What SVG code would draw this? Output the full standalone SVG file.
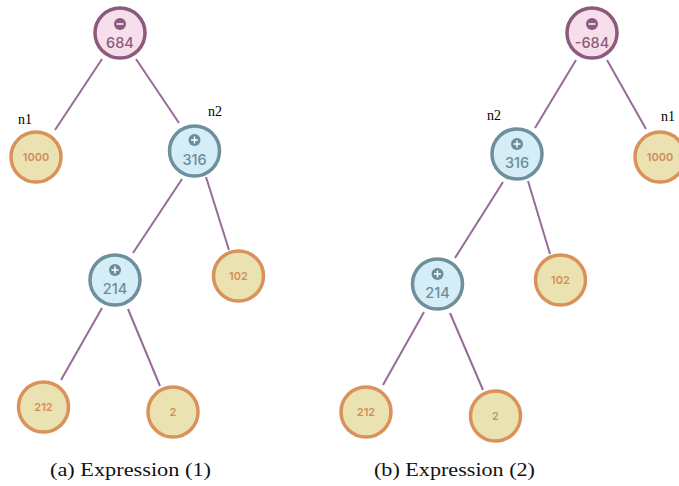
<svg xmlns="http://www.w3.org/2000/svg" width="679" height="486" viewBox="0 0 679 486">
<style>
.root circle.n{fill:#f6dfeb;stroke:#8c5a7c;stroke-width:3.5}
.root text{fill:#8c5a7c}
.root .ic{fill:#8c5a7c}
.op circle.n{fill:#d5edf6;stroke:#6d909c;stroke-width:3.5}
.op text{fill:#6d8c99}
.op .ic{fill:#6d8c99}
.leaf circle.n{fill:#ebe2b1;stroke:#d9925a;stroke-width:3.5}
.leaf text{fill:#d68c57;font-size:11px;font-weight:600}
text{font-family:Inter,"Open Sans","Noto Sans","Liberation Sans",sans-serif;text-anchor:middle}
.v{font-size:14.5px;font-weight:500}
.sg{stroke:#fff;stroke-width:1.5;fill:none}
.lbl{font-family:"Liberation Serif","DejaVu Serif",serif;font-size:14px;fill:#000;text-anchor:middle}
.cap{font-family:"Liberation Serif","DejaVu Serif",serif;font-size:18.5px;fill:#111;text-anchor:start}
#edges line{stroke:#956b98;stroke-width:2}
</style>
<g id="edges">
<line x1="102" y1="59" x2="55" y2="130"/>
<line x1="136" y1="59" x2="179" y2="123"/>
<line x1="182" y1="179" x2="133" y2="253"/>
<line x1="206" y1="177" x2="229" y2="250"/>
<line x1="102" y1="308" x2="61" y2="380"/>
<line x1="128" y1="309" x2="160" y2="386"/>
<line x1="576" y1="60" x2="535" y2="128"/>
<line x1="607" y1="60" x2="646" y2="129"/>
<line x1="503" y1="182" x2="455" y2="258"/>
<line x1="528" y1="181" x2="550" y2="254"/>
<line x1="424" y1="312" x2="383" y2="385"/>
<line x1="450" y1="313" x2="483" y2="390"/>
</g>
<g id="a-root" class="root"><circle class="n" cx="120" cy="33" r="25"/><circle class="ic" cx="120" cy="24" r="6"/><line class="sg" x1="116.5" y1="24" x2="123.5" y2="24"/><text class="v" x="120" y="48">684</text></g>
<g id="a-n1" class="leaf"><circle class="n" cx="36" cy="157" r="25"/><text x="36" y="161">1000</text></g>
<g id="a-316" class="op"><circle class="n" cx="194.5" cy="151" r="25"/><circle class="ic" cx="194.5" cy="140" r="6"/><path class="sg" d="M191 140H198M194.5 136.5V143.5"/><text class="v" x="194.5" y="165">316</text></g>
<g id="a-214" class="op"><circle class="n" cx="115" cy="280" r="25"/><circle class="ic" cx="115" cy="270" r="6"/><path class="sg" d="M111.5 270H118.5M115 266.5V273.5"/><text class="v" x="115" y="294">214</text></g>
<g id="a-102" class="leaf"><circle class="n" cx="238.5" cy="276" r="25"/><text x="238.5" y="280">102</text></g>
<g id="a-212" class="leaf"><circle class="n" cx="43.5" cy="407" r="25"/><text x="43.5" y="411">212</text></g>
<g id="a-2" class="leaf"><circle class="n" cx="173" cy="412" r="25"/><text x="173" y="416">2</text></g>
<text class="lbl" x="25" y="124">n1</text>
<text class="lbl" x="215" y="116">n2</text>
<g id="b-root" class="root"><circle class="n" cx="592" cy="33" r="25"/><circle class="ic" cx="592" cy="24" r="6"/><line class="sg" x1="588.5" y1="24" x2="595.5" y2="24"/><text class="v" x="592" y="48">-684</text></g>
<g id="b-316" class="op"><circle class="n" cx="517" cy="154" r="25"/><circle class="ic" cx="517" cy="144" r="6"/><path class="sg" d="M513.5 144H520.5M517 140.5V147.5"/><text class="v" x="517" y="168">316</text></g>
<g id="b-n1" class="leaf"><circle class="n" cx="660" cy="157" r="25"/><text x="660" y="161">1000</text></g>
<g id="b-214" class="op"><circle class="n" cx="437.5" cy="284" r="25"/><circle class="ic" cx="437.5" cy="274" r="6"/><path class="sg" d="M434 274H441M437.5 270.5V277.5"/><text class="v" x="437.5" y="298">214</text></g>
<g id="b-102" class="leaf"><circle class="n" cx="560.5" cy="280" r="25"/><text x="560.5" y="284">102</text></g>
<g id="b-212" class="leaf"><circle class="n" cx="366" cy="412" r="25"/><text x="366" y="416">212</text></g>
<g id="b-2" class="leaf"><circle class="n" cx="495.5" cy="416" r="25"/><text x="495.5" y="420">2</text></g>
<text class="lbl" x="494" y="120">n2</text>
<text class="lbl" x="668" y="121">n1</text>
<text class="cap" x="50" y="476" textLength="161" lengthAdjust="spacingAndGlyphs">(a) Expression (1)</text>
<text class="cap" x="374" y="476" textLength="161" lengthAdjust="spacingAndGlyphs">(b) Expression (2)</text>
</svg>
